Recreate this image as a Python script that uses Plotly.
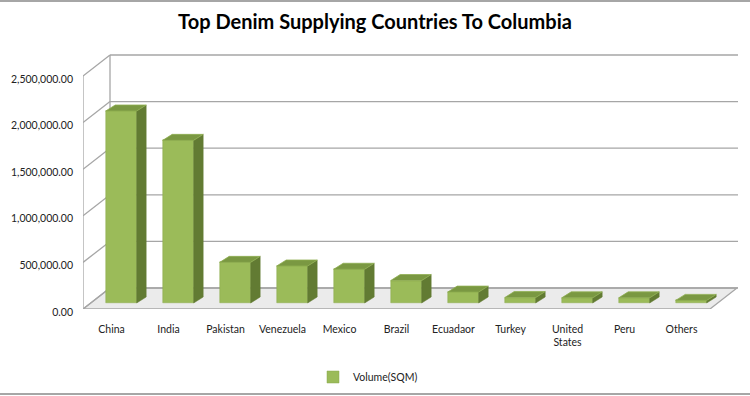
import plotly.graph_objects as go

# ---- data ----
countries = ["China", "India", "Pakistan", "Venezuela", "Mexico", "Brazil",
             "Ecuadaor", "Turkey", "United<br>States", "Peru", "Others"]
volume = [2060000, 1745000, 436000, 397000, 362000, 241000,
          117000, 58000, 55000, 55000, 28000]
y_ticks = [0, 500000, 1000000, 1500000, 2000000, 2500000]
series_name = "Volume(SQM)"
title_text = "Top Denim Supplying Countries To Columbia"

# ---- pseudo-3D geometry (in axis units) ----
W, H = 750, 396
L, R, T, B = 83, 12, 54, 87          # plot area margins
px_x = 57.0                           # pixels per category unit
px_y = 93.2 / 1e6                     # pixels per value unit
DX = 27 / px_x                        # back-wall depth offset (x)
DY = 21 / px_y                        # back-wall depth offset (y)
bx = 0.17                             # bar front-face shift (x)
bb = 6 / px_y                         # bar front-face base (y)
bw = 31 / px_x                        # bar width
sdx = 9.5 / px_x                      # bar side depth (x)
sdy = 6 / px_y                        # bar top depth (y)

n = len(countries)
xs = list(range(n))
x0, x1 = -0.5, n - 0.5
ymax = y_ticks[-1] + 22 / px_y
xmax = x0 + (W - L - R) / px_x

FRONT = "#9BBB59"
SIDE = "#627B33"
TOP = "#7A9842"
LINE = "#A6A6A6"

fig = go.Figure()

# bar side faces & top faces computed from the data
sx, sy, tx, ty = [], [], [], []
for i, v in zip(xs, volume):
    xl = i + bx - bw / 2
    xr = i + bx + bw / 2
    top = bb + v
    sx += [xr, xr, xr + sdx, xr + sdx, xr, None]
    sy += [bb, top, top + sdy, bb + sdy, bb, None]
    tx += [xl, xr, xr + sdx, xl + sdx, xl, None]
    ty += [top, top, top + sdy, top + sdy, top, None]

fig.add_trace(go.Bar(
    x=[i + bx for i in xs], y=volume, base=bb, width=bw,
    marker=dict(color=FRONT, line=dict(color="#8AAA4C", width=0.5)),
    name=series_name, showlegend=True))
fig.add_trace(go.Scatter(x=sx, y=sy, fill="toself", fillcolor=SIDE,
                         line=dict(color=SIDE, width=0.5), mode="lines",
                         hoverinfo="skip", showlegend=False))
fig.add_trace(go.Scatter(x=tx, y=ty, fill="toself", fillcolor=TOP,
                         line=dict(color="#8FAE52", width=0.8), mode="lines",
                         hoverinfo="skip", showlegend=False))

shapes = []
# floor (below the bars)
shapes.append(dict(type="path", xref="x", yref="y", layer="below",
                   path=f"M {x0},0 L {x1},0 L {x1 + DX},{DY} L {x0 + DX},{DY} Z",
                   fillcolor="#EBEBEB", line=dict(color=LINE, width=1.3)))
# back wall gridlines and left wall diagonals
for t in y_ticks:
    shapes.append(dict(type="line", xref="x", yref="y", layer="below",
                       x0=x0 + DX, x1=xmax, y0=t + DY, y1=t + DY,
                       line=dict(color=LINE, width=1.3)))
    shapes.append(dict(type="line", xref="x", yref="y", layer="below",
                       x0=x0, x1=x0 + DX, y0=t, y1=t + DY,
                       line=dict(color=LINE, width=1.3)))
# wall verticals
shapes.append(dict(type="line", xref="x", yref="y", layer="below",
                   x0=x0, x1=x0, y0=0, y1=y_ticks[-1], line=dict(color=LINE, width=1.3)))
shapes.append(dict(type="line", xref="x", yref="y", layer="below",
                   x0=x0 + DX, x1=x0 + DX, y0=DY, y1=y_ticks[-1] + DY,
                   line=dict(color=LINE, width=1.3)))
# chart border lines (top / bottom)
pw, ph = W - L - R, H - T - B
for py in (1, H - 2):
    yy = (H - B - py) / ph
    shapes.append(dict(type="line", xref="paper", yref="paper",
                       x0=-L / pw, x1=(W - L) / pw, y0=yy, y1=yy,
                       line=dict(color="#A6A6A6", width=2)))

fig.update_layout(
    width=W, height=H,
    margin=dict(l=L, r=R, t=T, b=B, autoexpand=False),
    paper_bgcolor="white", plot_bgcolor="white",
    font=dict(family="Lato, Carlito, sans-serif", size=10.5, color="#222222"),
    title=dict(text="<b>" + title_text + "</b>", x=0.5, xref="container",
               xanchor="center", y=1 - 22 / H, yanchor="middle",
               font=dict(size=20, color="black", family="Lato, sans-serif")),
    xaxis=dict(range=[x0, xmax], tickvals=xs, ticktext=countries,
               showgrid=False, zeroline=False, showline=False, ticks="",
               ticklabelstandoff=12, fixedrange=True, automargin=False),
    yaxis=dict(range=[0, ymax], tickvals=y_ticks, tickformat=",.2f",
               showgrid=False, zeroline=False, showline=False, ticks="",
               ticklabelstandoff=9, ticklabelshift=3,
               fixedrange=True, automargin=False),
    shapes=shapes,
    bargap=0,
    showlegend=True,
    legend=dict(orientation="h", xref="container", yref="container",
                x=368 / W, xanchor="center", y=1 - 377 / H,
                yanchor="middle", font=dict(size=10.5), itemwidth=30,
                bgcolor="rgba(0,0,0,0)"),
)

fig.write_html("out.html")
